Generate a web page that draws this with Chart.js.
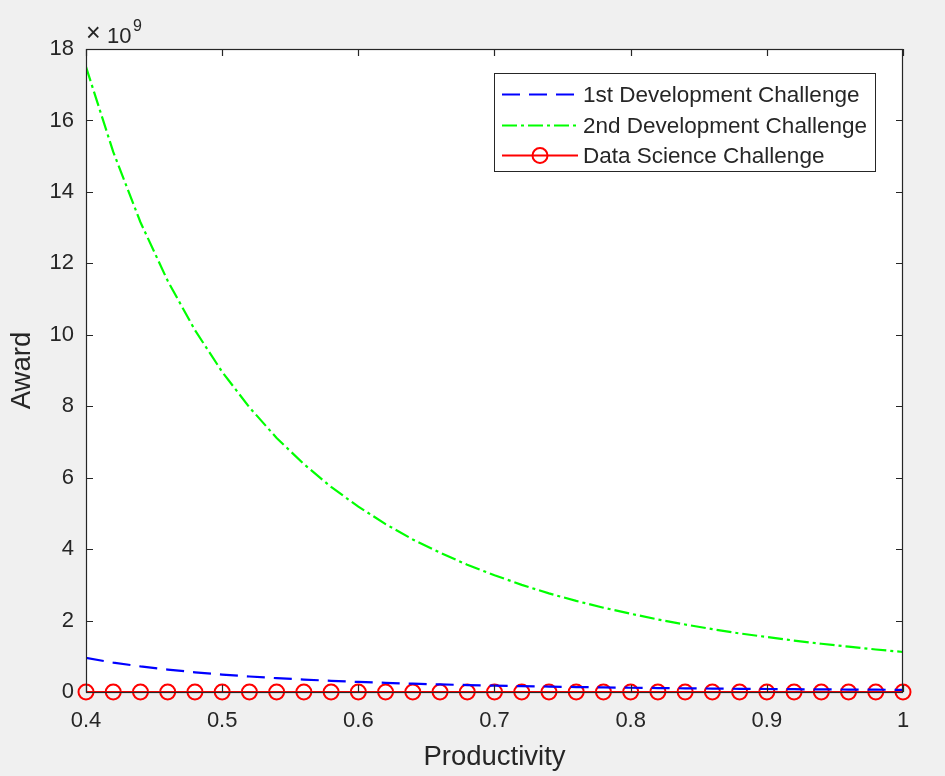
<!DOCTYPE html>
<html>
<head>
<meta charset="utf-8">
<script src="https://cdn.jsdelivr.net/npm/chart.js@4"></script>
<style>
  html, body { margin: 0; padding: 0; background: #f0f0f0; }
  #wrap { width: 945px; height: 776px; }
</style>
</head>
<body>
<div id="wrap"><canvas id="myChart" width="945" height="776"></canvas></div>
<script>
// productivity values (x axis), markers every 0.02
const productivity = [0.40, 0.42, 0.44, 0.46, 0.48, 0.50, 0.52, 0.54, 0.56, 0.58, 0.60,
  0.62, 0.64, 0.66, 0.68, 0.70, 0.72, 0.74, 0.76, 0.78, 0.80,
  0.82, 0.84, 0.86, 0.88, 0.90, 0.92, 0.94, 0.96, 0.98, 1.00];
// award, in units of 1e9
const firstDev = [0.953, 0.823, 0.716, 0.627, 0.552, 0.488, 0.434, 0.387, 0.347, 0.313, 0.282,
  0.256, 0.233, 0.212, 0.194, 0.178, 0.163, 0.151, 0.139, 0.129, 0.119,
  0.111, 0.103, 0.096, 0.090, 0.084, 0.078, 0.073, 0.069, 0.065, 0.061];
const secondDev = [17.50, 15.12, 13.15, 11.51, 10.13, 8.96, 7.97, 7.11, 6.38, 5.74, 5.19,
  4.70, 4.27, 3.90, 3.56, 3.27, 3.00, 2.76, 2.55, 2.36, 2.19,
  2.03, 1.89, 1.76, 1.64, 1.54, 1.44, 1.35, 1.27, 1.19, 1.12];
const dataScience = [0, 0, 0, 0, 0, 0, 0, 0, 0, 0, 0,
  0, 0, 0, 0, 0, 0, 0, 0, 0, 0,
  0, 0, 0, 0, 0, 0, 0, 0, 0, 0];
const seriesNames = ["1st Development Challenge", "2nd Development Challenge", "Data Science Challenge"];
const xTicks = [0.4, 0.5, 0.6, 0.7, 0.8, 0.9, 1];
const yTicks = [0, 2, 4, 6, 8, 10, 12, 14, 16, 18];

const FONT = "'Liberation Sans', Arial, sans-serif";
const TXT = "#262626";

function toPoints(ys) {
  return productivity.map((x, i) => ({ x: x, y: ys[i] }));
}

// box, inward ticks, exponent label and legend (MATLAB look)
const matlabAxes = {
  id: "matlabAxes",
  beforeDatasetsDraw(chart) {
    const { ctx, chartArea: a } = chart;
    ctx.save();
    ctx.fillStyle = "#ffffff";
    ctx.fillRect(a.left, a.top, a.right - a.left, a.bottom - a.top);
    ctx.restore();
  },
  afterDatasetsDraw(chart) {
    const { ctx, chartArea: a, scales } = chart;
    ctx.save();
    ctx.strokeStyle = "#262626";
    ctx.lineWidth = 1.2;
    ctx.strokeRect(a.left + 0.5, a.top + 0.5, a.right - a.left - 1, a.bottom - a.top);
    const tl = 7;
    ctx.beginPath();
    xTicks.forEach((v) => {
      const px = Math.round(scales.x.getPixelForValue(v)) + 0.5;
      ctx.moveTo(px, a.bottom); ctx.lineTo(px, a.bottom - tl);
      ctx.moveTo(px, a.top); ctx.lineTo(px, a.top + tl);
    });
    yTicks.forEach((v) => {
      const py = Math.round(scales.y.getPixelForValue(v)) + 0.5;
      ctx.moveTo(a.left, py); ctx.lineTo(a.left + tl, py);
      ctx.moveTo(a.right, py); ctx.lineTo(a.right - tl, py);
    });
    ctx.stroke();

    // exponent label
    ctx.fillStyle = TXT;
    ctx.textBaseline = "alphabetic";
    ctx.textAlign = "left";
    ctx.font = "25px " + FONT;
    ctx.fillText("\u00d7", a.left, a.top - 8);
    ctx.font = "22px " + FONT;
    ctx.fillText("10", a.left + 21, a.top - 6);
    ctx.font = "16px " + FONT;
    ctx.fillText("9", a.left + 47, a.top - 18);

    // legend
    const lx = 494, ly = 73, lw = 381, lh = 98;
    ctx.fillStyle = "#ffffff";
    ctx.fillRect(lx, ly, lw, lh);
    ctx.strokeStyle = "#262626";
    ctx.lineWidth = 1;
    ctx.strokeRect(lx + 0.5, ly + 0.5, lw, lh);
    const rows = [94, 125, 155];
    chart.data.datasets.forEach((ds, i) => {
      const y = rows[i] + 0.5;
      ctx.strokeStyle = ds.borderColor;
      ctx.lineWidth = ds.borderWidth;
      ctx.setLineDash(ds.borderDash || []);
      ctx.beginPath();
      ctx.moveTo(502, y); ctx.lineTo(578, y);
      ctx.stroke();
      ctx.setLineDash([]);
      if (ds.pointRadius > 0) {
        ctx.lineWidth = ds.pointBorderWidth;
        ctx.beginPath();
        ctx.arc(540, y, ds.pointRadius, 0, Math.PI * 2);
        ctx.stroke();
      }
      ctx.fillStyle = TXT;
      ctx.font = "22.5px " + FONT;
      ctx.textBaseline = "middle";
      ctx.fillText(ds.label, 583, y + 1);
    });
    ctx.restore();
  },
};

const canvas = document.getElementById("myChart").getContext("2d");
const myChart = new Chart(canvas, {
  type: "line",
  data: {
    datasets: [
      {
        label: seriesNames[0],
        data: toPoints(firstDev),
        borderColor: "#0000ff",
        borderWidth: 2.2,
        borderDash: [18, 9],
        pointRadius: 0,
        tension: 0,
      },
      {
        label: seriesNames[1],
        data: toPoints(secondDev),
        borderColor: "#00ff00",
        borderWidth: 2.2,
        borderDash: [15, 4, 3, 4],
        pointRadius: 0,
        tension: 0,
      },
      {
        label: seriesNames[2],
        data: toPoints(dataScience),
        borderColor: "#ff0000",
        backgroundColor: "rgba(0,0,0,0)",
        borderWidth: 2.2,
        pointRadius: 7.5,
        pointBorderWidth: 2,
        pointBorderColor: "#ff0000",
        pointBackgroundColor: "rgba(0,0,0,0)",
        clip: false,
        tension: 0,
      },
    ],
  },
  options: {
    responsive: false,
    animation: false,
    layout: { padding: { top: 49, right: 42, left: 0, bottom: 0 } },
    plugins: { legend: { display: false }, tooltip: { enabled: false } },
    scales: {
      x: {
        type: "linear",
        min: 0.4,
        max: 1,
        afterBuildTicks: (s) => { s.ticks = xTicks.map((v) => ({ value: v })); },
        afterFit: (s) => { s.height = 776 - 692; },
        grid: { display: false, drawTicks: false },
        border: { display: false },
        ticks: {
          color: TXT,
          font: { family: FONT, size: 22 },
          padding: 16,
          maxRotation: 0,
          callback: (v) => String(v),
        },
        title: {
          display: true,
          text: "Productivity",
          color: TXT,
          font: { family: FONT, size: 27.5 },
          padding: { top: 0, bottom: 2 },
        },
      },
      y: {
        type: "linear",
        min: 0,
        max: 18,
        afterBuildTicks: (s) => { s.ticks = yTicks.map((v) => ({ value: v })); },
        afterFit: (s) => { s.width = 86; },
        grid: { display: false, drawTicks: false },
        border: { display: false },
        ticks: {
          color: TXT,
          font: { family: FONT, size: 22 },
          padding: 12,
          callback: (v) => String(v),
        },
        title: {
          display: true,
          text: "Award",
          color: TXT,
          font: { family: FONT, size: 27.5 },
          padding: { top: 6, bottom: 0 },
        },
      },
    },
  },
  plugins: [matlabAxes],
});
</script>
</body>
</html>
